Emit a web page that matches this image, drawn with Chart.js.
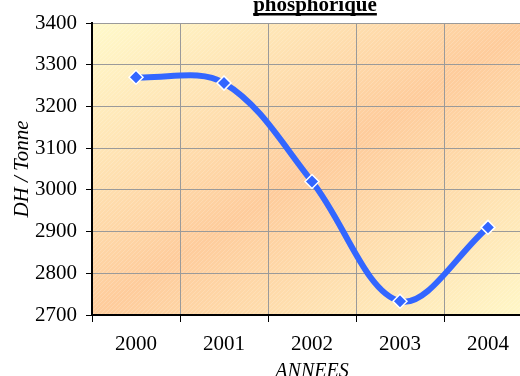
<!DOCTYPE html>
<html>
<head>
<meta charset="utf-8">
<script src="https://cdn.jsdelivr.net/npm/chart.js@4/dist/chart.umd.min.js"></script>
<style>
  html, body { margin: 0; padding: 0; background: #fff; overflow: hidden; }
  #wrap { position: absolute; left: 0; top: 0; }
</style>
</head>
<body>
<div id="wrap"><canvas id="prixChart" width="532" height="386"></canvas></div>
<script>
const annees = ['2000', '2001', '2002', '2003', '2004'];
const prix = [3270, 3256, 3020, 2733, 2910];
const yTicks = [2700, 2800, 2900, 3000, 3100, 3200, 3300, 3400];

const serif = 'Liberation Serif, Times New Roman, serif';

// fond du graphique : dégradé jaune / pêche en diagonale avec fines hachures
const fondPlugin = {
    id: 'fond',
    beforeDraw(chart) {
        const { ctx, chartArea: a } = chart;
        const w = a.right - a.left, h = a.bottom - a.top;
        const cx = a.left + w / 2, cy = a.top + h / 2;
        const k = (w * h) / (w * w + h * h);
        const g = ctx.createLinearGradient(cx - h * k, cy - w * k, cx + h * k, cy + w * k);
        g.addColorStop(0, '#FFFACB');
        g.addColorStop(0.5, '#FECC9C');
        g.addColorStop(1, '#FFF8C8');
        ctx.save();
        ctx.fillStyle = g;
        ctx.fillRect(a.left, a.top, w, h);
        ctx.beginPath();
        ctx.rect(a.left, a.top, w, h);
        ctx.clip();
        ctx.strokeStyle = 'rgba(255,255,255,0.18)';
        ctx.lineWidth = 1;
        ctx.beginPath();
        for (let s = -h; s < w; s += 4) {
            ctx.moveTo(a.left + s, a.bottom);
            ctx.lineTo(a.left + s + h, a.top);
        }
        ctx.stroke();
        ctx.restore();
    }
};

// titre souligné
const titrePlugin = {
    id: 'titre',
    afterDraw(chart) {
        const { ctx } = chart;
        const texte = 'phosphorique';
        ctx.save();
        ctx.font = 'bold 21px ' + serif;
        ctx.fillStyle = '#000';
        ctx.textAlign = 'center';
        ctx.textBaseline = 'alphabetic';
        const x = 315, y = 11;
        ctx.fillText(texte, x, y);
        const tw = ctx.measureText(texte).width;
        ctx.fillRect(x - tw / 2, y + 2, tw, 2.5);
        ctx.restore();
    }
};

const ctx = document.getElementById('prixChart').getContext('2d');
new Chart(ctx, {
    type: 'line',
    data: {
        labels: annees,
        datasets: [{
            data: prix,
            borderColor: '#3366FF',
            borderWidth: 6,
            tension: 0.35,
            pointStyle: 'rectRot',
            pointRadius: 7,
            pointBackgroundColor: '#3366FF',
            pointBorderColor: '#FFFFFF',
            pointBorderWidth: 1.5,
            fill: false
        }]
    },
    options: {
        responsive: false,
        animation: false,
        layout: {
            autoPadding: false,
            padding: { top: 23, right: 0, left: 0, bottom: 0 }
        },
        plugins: {
            legend: { display: false },
            tooltip: { enabled: false }
        },
        scales: {
            x: {
                offset: true,
                grid: {
                    offset: true,
                    color: '#9a9a9a',
                    lineWidth: 1,
                    tickColor: '#000',
                    tickLength: 7
                },
                border: { color: '#000', width: 2 },
                ticks: {
                    color: '#000',
                    font: { family: serif, size: 21 },
                    padding: 10,
                    maxRotation: 0
                },
                title: {
                    display: true,
                    text: 'ANNEES',
                    color: '#000',
                    font: { family: serif, size: 20, style: 'italic' },
                    padding: { top: 0, bottom: 2 }
                },
                afterFit(scale) {
                    scale.height = 71;
                    scale.paddingLeft = 0;
                    scale.paddingRight = 0;
                }
            },
            y: {
                min: 2700,
                max: 3400,
                afterBuildTicks(scale) {
                    scale.ticks = yTicks.map(v => ({ value: v }));
                },
                grid: {
                    color: '#9a9a9a',
                    lineWidth: 1,
                    tickColor: '#000',
                    tickLength: 6
                },
                border: { color: '#000', width: 2 },
                ticks: {
                    color: '#000',
                    font: { family: serif, size: 21 },
                    padding: 9,
                    callback: v => String(v)
                },
                title: {
                    display: true,
                    text: 'DH / Tonne',
                    color: '#000',
                    font: { family: serif, size: 21, style: 'italic' },
                    padding: { top: 10, bottom: 0 }
                },
                afterFit(scale) { scale.width = 92; }
            }
        }
    },
    plugins: [fondPlugin, titrePlugin]
});
</script>
</body>
</html>
